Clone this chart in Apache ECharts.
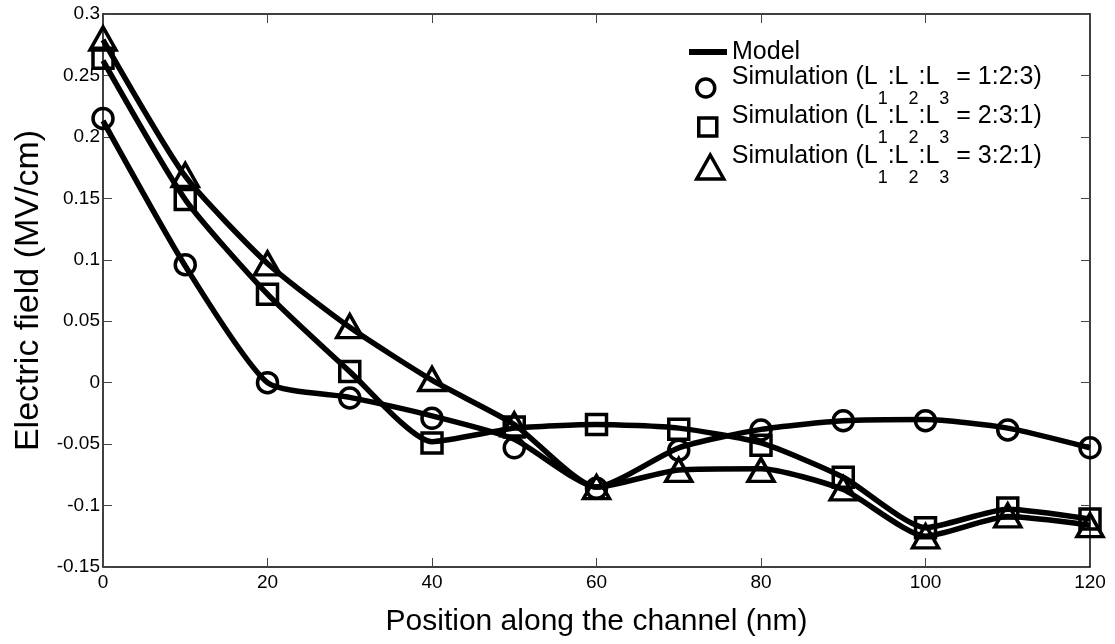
<!DOCTYPE html>
<html>
<head>
<meta charset="utf-8">
<script src="https://cdn.jsdelivr.net/npm/echarts@6/dist/echarts.min.js"></script>
<style>
  html, body { margin: 0; padding: 0; background: #fff; }
  #chart { width: 1115px; height: 644px; }
</style>
</head>
<body>
<div id="chart"></div>
<script>
const positions = [0, 10, 20, 30, 40, 50, 60, 70, 80, 90, 100, 110, 120];

// simulation points
const sim123 = [0.215, 0.096, 0.000, -0.0125, -0.029, -0.053, -0.086, -0.055, -0.0385, -0.031, -0.031, -0.0385, -0.053];
const sim231 = [0.264, 0.149, 0.072, 0.009, -0.049, -0.036, -0.034, -0.038, -0.051, -0.077, -0.118, -0.102, -0.111];
const sim321 = [0.280, 0.169, 0.097, 0.046, 0.003, -0.034, -0.085, -0.071, -0.071, -0.086, -0.125, -0.108, -0.116];

// model curves (thick lines)
const model123 = [0.213, 0.095, 0.000, -0.012, -0.027, -0.046, -0.085, -0.053, -0.038, -0.031, -0.030, -0.037, -0.053];
const model231 = [0.262, 0.149, 0.072, 0.009, -0.048, -0.037, -0.034, -0.037, -0.049, -0.077, -0.118, -0.103, -0.111];
const model321 = [0.279, 0.168, 0.097, 0.045, 0.002, -0.034, -0.085, -0.071, -0.070, -0.087, -0.125, -0.109, -0.116];

const simNames = [
  "Simulation (L1:L2:L3 = 1:2:3)",
  "Simulation (L1:L2:L3 = 2:3:1)",
  "Simulation (L1:L2:L3 = 3:2:1)"
];

const FONT = "Arial, 'Liberation Sans', Helvetica, sans-serif";
const pairs = ys => positions.map((x, i) => [x, ys[i]]);

const richLabel = name => "{m|" + name.replace(/L(\d)/g, "L}{s|$1}{m|") + "}";
const legendText = padLeft => ({
  color: "#000",
  fontFamily: FONT,
  padding: [0, 0, 0, padLeft],
  rich: {
    m: { fontSize: 25, lineHeight: 28, padding: [4, 0, 0, 0], verticalAlign: "top", fontFamily: FONT, color: "#000" },
    s: { fontSize: 18, height: 18, lineHeight: 54, padding: [29, 0, 7, 0], verticalAlign: "top", fontFamily: FONT, color: "#000" }
  }
});
const hollow = { color: "rgba(0,0,0,0)", borderColor: "#000", borderWidth: 3.5, opacity: 1 };

function simLegend(name, left, top, w, h, icon, padLeft) {
  return {
    left, top, padding: 0, orient: "vertical", selectedMode: false,
    itemWidth: w, itemHeight: h,
    data: [{ name, icon, itemStyle: hollow }],
    formatter: richLabel,
    textStyle: legendText(padLeft)
  };
}

function axisX(pos) {
  return {
    type: "value", min: 0, max: 120, interval: 20, position: pos,
    axisLine: { onZero: false, lineStyle: { color: "#000", width: 1.5 } },
    axisTick: { inside: true, length: 9, lineStyle: { color: "#444", width: 1 } },
    axisLabel: { show: pos === "bottom", fontSize: 19, color: "#000", fontFamily: FONT, margin: 6 },
    splitLine: { show: false },
    name: pos === "bottom" ? "Position along the channel (nm)" : "",
    nameLocation: "middle", nameGap: 40,
    nameTextStyle: { fontSize: 30, color: "#000", fontFamily: FONT }
  };
}

function axisY(pos) {
  return {
    type: "value", min: -0.15, max: 0.3, interval: 0.05, position: pos,
    axisLine: { onZero: false, lineStyle: { color: "#000", width: 1.5 } },
    axisTick: { inside: true, length: 9, lineStyle: { color: "#444", width: 1 } },
    axisLabel: { show: pos === "left", fontSize: 19, color: "#000", fontFamily: FONT, margin: 3 },
    splitLine: { show: false },
    name: pos === "left" ? "Electric field (MV/cm)" : "",
    nameLocation: "middle", nameGap: 55,
    nameTextStyle: { fontSize: 34, color: "#000", fontFamily: FONT }
  };
}

const chart = echarts.init(document.getElementById("chart"));
const modelLine = ys => ({
  name: "Model", type: "line", data: pairs(ys), symbol: "none", smooth: 0.2,
  lineStyle: { color: "#000", width: 5.5 }, itemStyle: { color: "#000" }, z: 2
});
const simScatter = (name, ys, symbol, size) => ({
  name, type: "scatter", data: pairs(ys), symbol, symbolSize: size,
  itemStyle: hollow, z: 3
});

chart.setOption({
  animation: false,
  backgroundColor: "#fff",
  grid: { left: 103, right: 25, top: 14, bottom: 77 },
  xAxis: [axisX("bottom"), axisX("top")],
  yAxis: [axisY("left"), axisY("right")],
  legend: [
    {
      left: 689, top: 38, padding: 0, selectedMode: false,
      itemWidth: 38, itemHeight: 6,
      data: [{ name: "Model", icon: "rect", itemStyle: { color: "#000" } }],
      textStyle: { fontSize: 25, lineHeight: 28, color: "#000", fontFamily: FONT }
    },
    simLegend(simNames[0], 695, 61, 18, 18, "circle", 12),
    simLegend(simNames[1], 697, 100, 18, 18, "rect", 10),
    simLegend(simNames[2], 695, 140, 27, 24, "triangle", 3)
  ],
  series: [
    modelLine(model123),
    modelLine(model231),
    modelLine(model321),
    simScatter(simNames[0], sim123, "circle", 20),
    simScatter(simNames[1], sim231, "rect", 20),
    simScatter(simNames[2], sim321, "triangle", [26, 23])
  ]
});
</script>
</body>
</html>
